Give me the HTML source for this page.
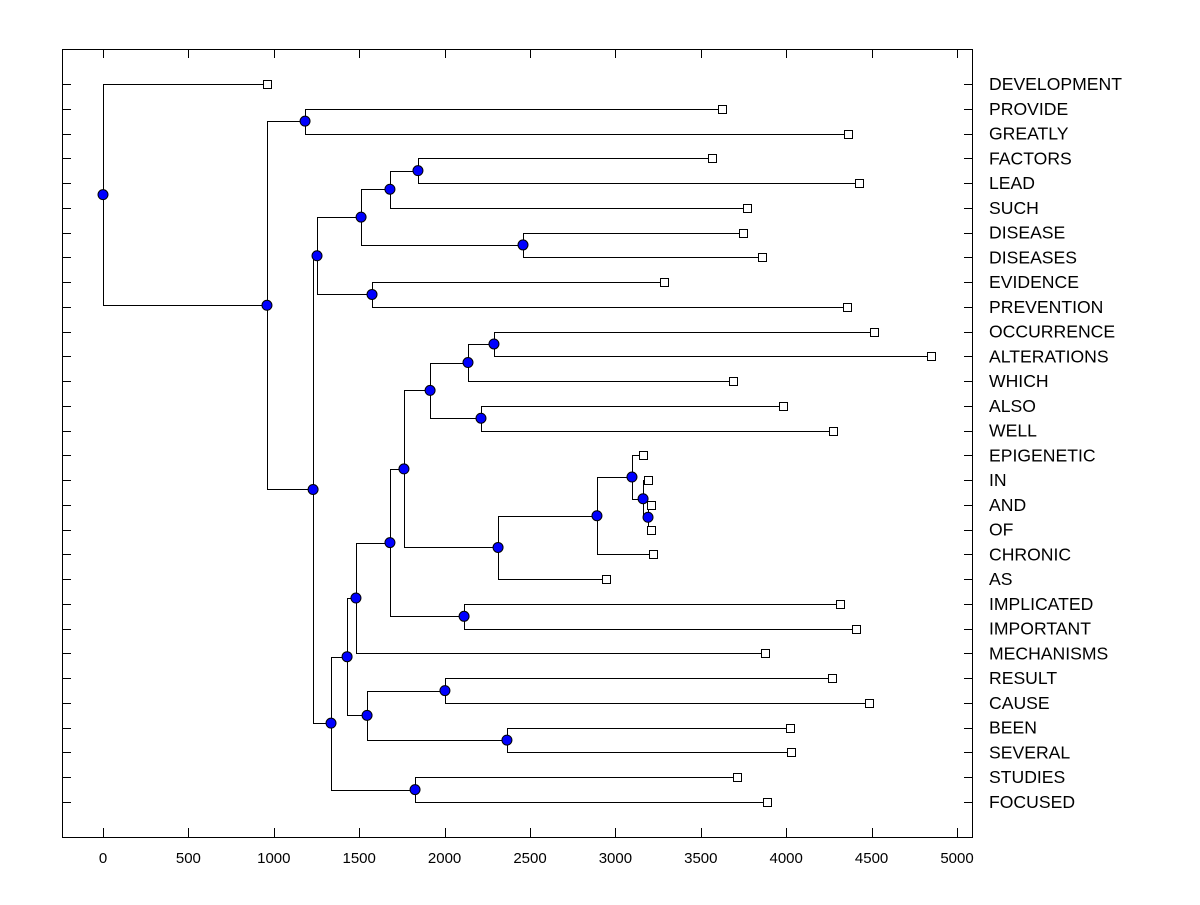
<!DOCTYPE html>
<html><head><meta charset="utf-8"><style>
body{margin:0;background:#fff;}
svg text{font-family:"Liberation Sans",sans-serif;}
</style></head><body>
<svg id="chart" width="1200" height="900" xmlns="http://www.w3.org/2000/svg">
<rect x="0" y="0" width="1200" height="900" fill="#fff"/>
<rect x="62.5" y="49.5" width="910" height="788" fill="none" stroke="#000" stroke-width="1"/>
<g id="ticks"></g><g id="tree"></g><g id="marks"></g><g id="labels"></g>
</svg>
<script>
const leafLabels=["DEVELOPMENT","PROVIDE","GREATLY","FACTORS","LEAD","SUCH","DISEASE","DISEASES","EVIDENCE","PREVENTION","OCCURRENCE","ALTERATIONS","WHICH","ALSO","WELL","EPIGENETIC","IN","AND","OF","CHRONIC","AS","IMPLICATED","IMPORTANT","MECHANISMS","RESULT","CAUSE","BEEN","SEVERAL","STUDIES","FOCUSED"];
const leafHeights=[960,3624,4362,3566,4426,3770,3747,3858,3285,4356,4514,4848,3689,3981,4274,3162,3191,3208,3208,3220,2945,4315,4409,3876,4268,4485,4022,4028,3712,3888];
const mergeLeft=[3,30,6,31,8,33,10,36,13,37,17,16,15,42,43,39,21,45,47,24,26,49,48,28,52,35,1,56,0];
const mergeRight=[4,5,7,32,9,34,11,12,14,38,18,40,41,19,20,44,22,46,23,25,27,50,51,29,53,54,2,55,57];
const mergeHeights=[1844,1680,2459,1511,1575,1253,2289,2137,2213,1915,3191,3162,3097,2892,2313,1762,2114,1680,1481,2002,2365,1546,1429,1827,1335,1230,1183,960,0];
const xTicks=[0,500,1000,1500,2000,2500,3000,3500,4000,4500,5000];

const NS="http://www.w3.org/2000/svg";
const X0=103,X1=957,V1=5000;
function xs(v){return X0+(X1-X0)*v/V1;}
const Y0=84,DY=(802-84)/29;
function ys(i){return Y0+DY*i;}
function mk(tag,attrs,parent){const e=document.createElementNS(NS,tag);for(const k in attrs)e.setAttribute(k,attrs[k]);parent.appendChild(e);return e;}
const gT=document.getElementById('ticks'),gTree=document.getElementById('tree'),gM=document.getElementById('marks'),gL=document.getElementById('labels');

xTicks.forEach(t=>{
  const x=Math.round(xs(t))+0.5;
  let l=mk('line',{x1:x,x2:x,y1:837,y2:828,stroke:'#000'},gT);
  
  
  l=mk('line',{x1:x,x2:x,y1:50,y2:58,stroke:'#000'},gT);
  
  
  const tx=mk('text',{x:xs(t),y:863,'text-anchor':'middle','font-size':'15'},gT);
  tx.textContent=t;
  
  
});

const nodeH=leafHeights.slice(), nodeY=leafLabels.map((_,i)=>ys(i));
mergeLeft.forEach((a,k)=>{const b=mergeRight[k];nodeH.push(mergeHeights[k]);nodeY.push((nodeY[a]+nodeY[b])/2);});

leafLabels.forEach((lab,i)=>{
  const y=Math.round(ys(i))+0.5;
  let l=mk('line',{x1:62,x2:71,y1:y,y2:y,stroke:'#000'},gT);
  
  
  l=mk('line',{x1:964,x2:973,y1:y,y2:y,stroke:'#000'},gT);
  
  
  const t=mk('text',{x:989,y:ys(i)+6,'font-size':'17.6'},gL);
  t.textContent=lab;
  
  
});

mergeLeft.forEach((a,k)=>{
  const b=mergeRight[k],id=30+k,x=Math.round(xs(nodeH[id]))+0.5;
  const ya=Math.round(nodeY[a])+0.5,yb=Math.round(nodeY[b])+0.5;
  const p=mk('path',{d:`M${Math.round(xs(nodeH[a]))+0.5},${ya}H${x}V${yb}H${Math.round(xs(nodeH[b]))+0.5}`,fill:'none',stroke:'#000','stroke-width':1},gTree);
  
  
});
leafLabels.forEach((lab,i)=>{
  const r=mk('rect',{x:Math.round(xs(leafHeights[i]))-3.5,y:Math.round(ys(i))-3.5,width:8,height:8,fill:'#fff',stroke:'#000'},gM);
  
  
});
mergeLeft.forEach((a,k)=>{
  const id=30+k;
  const c=mk('circle',{cx:xs(nodeH[id]),cy:nodeY[id],r:5,fill:'#0000ff',stroke:'#000','stroke-width':1},gM);
  
  
});
</script>
</body></html>
